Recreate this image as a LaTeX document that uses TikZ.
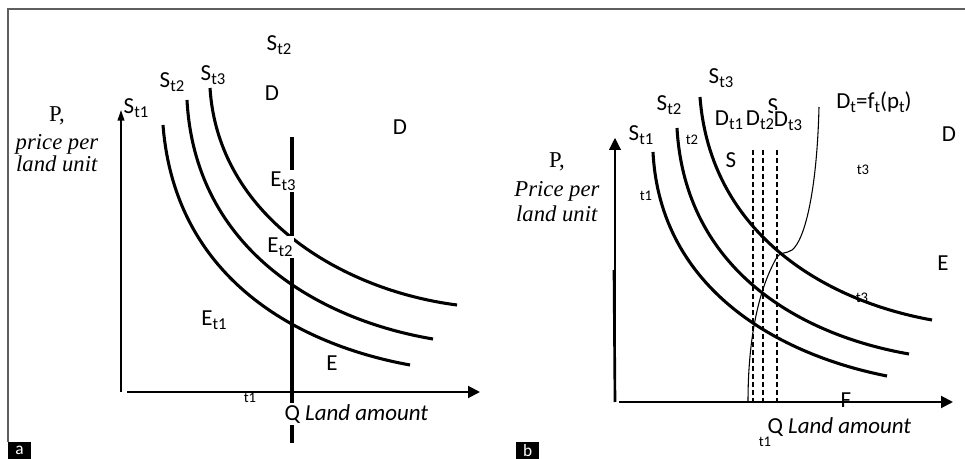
\documentclass[tikz,border=0pt]{standalone}
\usepackage{fontspec}
\setmainfont{Liberation Serif}
\setsansfont{Carlito}
\usetikzlibrary{positioning,calc}
\usetikzlibrary{arrows.meta}
\definecolor{FrameGray}{RGB}{95,95,95}
\newcommand{\tsub}[1]{\raisebox{-0.35ex}{\fontsize{12.5}{12.5}\selectfont #1}}
\tikzset{
  lbl/.style={font=\sffamily\fontsize{17.2}{19}\selectfont,inner sep=1pt},
  cover/.style={lbl,fill=white},
  tiny/.style={font=\sffamily\fontsize{11}{11}\selectfont,inner sep=0pt},
  yname/.style={font=\fontsize{17}{19}\selectfont,anchor=base,inner sep=0pt},
  supply/.style={line width=2.3pt},
  demand/.style={line width=0.8pt},
  axis/.style={line width=1.5pt,-{Triangle[length=9pt,width=9pt]}},
  tag/.style={fill=black,text=white,font=\sffamily\fontsize{13}{13}\selectfont,
    minimum width=17pt,minimum height=12.75pt,inner sep=0pt,anchor=north west},
}

\begin{document}
\begin{tikzpicture}[x=0.75pt,y=-0.75pt]
  \useasboundingbox (0,0) rectangle (965,459);
  \draw[FrameGray,line width=1pt] (8,442) -- (8,9) -- (965,9);

  % panel a
  \coordinate (ao) at (121,392);
  \coordinate (ay) at (121,110);
  \coordinate (ax0) at (127,392);
  \coordinate (ax1) at (480,392);
  \draw[line width=1.3pt,-{Triangle[length=8pt,width=5pt]}] (ao) -- (ay);
  \draw[axis] (ax0) -- (ax1);
  \node[yname] (pa) at (57,122) {P,};
  \node[yname] (pa1) at (57,150) {\textit{price per}};
  \node[yname] (pa2) at (57,172) {\textit{land unit}};
  \node[tiny] (at1) at (250,398) {t1};
  \coordinate (a1s) at (163,125);
  \coordinate (a1e) at (410,365);
  \coordinate (a2s) at (187,100);
  \coordinate (a2e) at (433,339);
  \coordinate (a3s) at (210,88);
  \coordinate (a3e) at (457,305);
  \draw[supply] (a1s) .. controls (175,280) and (300,345) .. (a1e);
  \draw[supply] (a2s) .. controls (195,250) and (320,320) .. (a2e);
  \draw[supply] (a3s) .. controls (218,215) and (340,290) .. (a3e);
  \coordinate (qt) at (292,137);
  \coordinate (qb) at (292,443);
  \draw[line width=2.3pt] (qt) -- (qb);
  \node[cover] (et3) at (283,181) {E\tsub{t3}};
  \node[cover] (et2) at (280,247) {E\tsub{t2}};
  \node[cover,anchor=west] (qa) at (283,414) {Q \textit{Land amount}};
  \node[lbl] (et1) at (214,320) {E\tsub{t1}};
  \node[lbl] (ea) at (332,363) {E};
  \node[lbl] (sa1) at (136,108) {S\tsub{t1}};
  \node[lbl] (sa2) at (172,82) {S\tsub{t2}};
  \node[lbl] (sa3) at (213,75) {S\tsub{t3}};
  \node[lbl] (sa4) at (279,45) {S\tsub{t2}};
  \node[lbl] (da1) at (272,93) {D};
  \node[lbl] (da2) at (400,127) {D};
  \node[tag] (taga) at (8,442) {a};

  % panel b
  \coordinate (bo) at (615,402);
  \coordinate (by) at (615,138);
  \coordinate (bm) at (614,270);
  \coordinate (bx0) at (619,402);
  \coordinate (bx1) at (953,402);
  \draw[line width=0.8pt,-{Triangle[length=9pt,width=9pt]}] (bo) -- (by);
  \draw[line width=2pt] (bm) -- (bo);
  \node[yname] (pb) at (557,168) {P,};
  \node[yname] (pb1) at (557,197) {\textit{Price per}};
  \node[yname] (pb2) at (557,222) {\textit{land unit}};
  \node[tiny] (bt2) at (692,140) {t2};
  \node[tiny] (bt1) at (646,196) {t1};
  \node[tiny] (bt3) at (863,170) {t3};
  \node[tiny] (bt3b) at (862,298) {t3};
  \node[tiny] (bt1b) at (765,442) {t1};
  \node[lbl] (fb) at (846,400) {F};
  \draw[axis] (bx0) -- (bx1);
  \foreach \x [count=\i] in {753,763,777}{
    \coordinate (dt\i) at (\x,150);
    \coordinate (db\i) at (\x,402);
    \draw[demand,dash pattern=on 3.5pt off 2.5pt] (dt\i) -- (db\i);
  }
  \coordinate (b1s) at (653,152);
  \coordinate (b1e) at (887,376);
  \coordinate (b2s) at (677,128);
  \coordinate (b2e) at (909,354);
  \coordinate (b3s) at (700,97);
  \coordinate (b3e) at (932,320);
  \draw[supply] (b1s) .. controls (660,290) and (780,355) .. (b1e);
  \draw[supply] (b2s) .. controls (685,270) and (800,335) .. (b2e);
  \draw[supply] (b3s) .. controls (710,230) and (820,300) .. (b3e);
  \coordinate (dtop) at (819,107);
  \coordinate (dk1) at (792,250);
  \coordinate (dk2) at (777,257);
  \coordinate (dbot) at (748,402);
  \draw[demand] (dtop) .. controls (817,190) and (805,240) .. (dk1)
    .. controls (786,254) and (780,252) .. (dk2)
    .. controls (758,290) and (748,340) .. (dbot);
  \node[lbl] (sb1) at (641,135) {S\tsub{t1}};
  \node[lbl] (sb2) at (669,105) {S\tsub{t2}};
  \node[lbl] (sb3) at (721,78) {S\tsub{t3}};
  \node[lbl] (sb) at (731,160) {S};
  \node[lbl] (sbh) at (773,106) {S};
  \node[lbl] (dbt1) at (729,120) {D\tsub{t1}};
  \node[lbl] (dbt2) at (760,120) {D\tsub{t2}};
  \node[cover] (dbt3) at (788,121) {D\tsub{t3}};
  \node[lbl] (dfun) at (874,102) {D\tsub{t}=f\tsub{t}(p\tsub{t})};
  \node[lbl] (db) at (949,134) {D};
  \node[lbl] (eb) at (943,263) {E};
  \node[lbl,anchor=west] (qb) at (766,427) {Q \textit{Land amount}};
  \node[tag] (tagb) at (516,442) {b};
\end{tikzpicture}
\end{document}
